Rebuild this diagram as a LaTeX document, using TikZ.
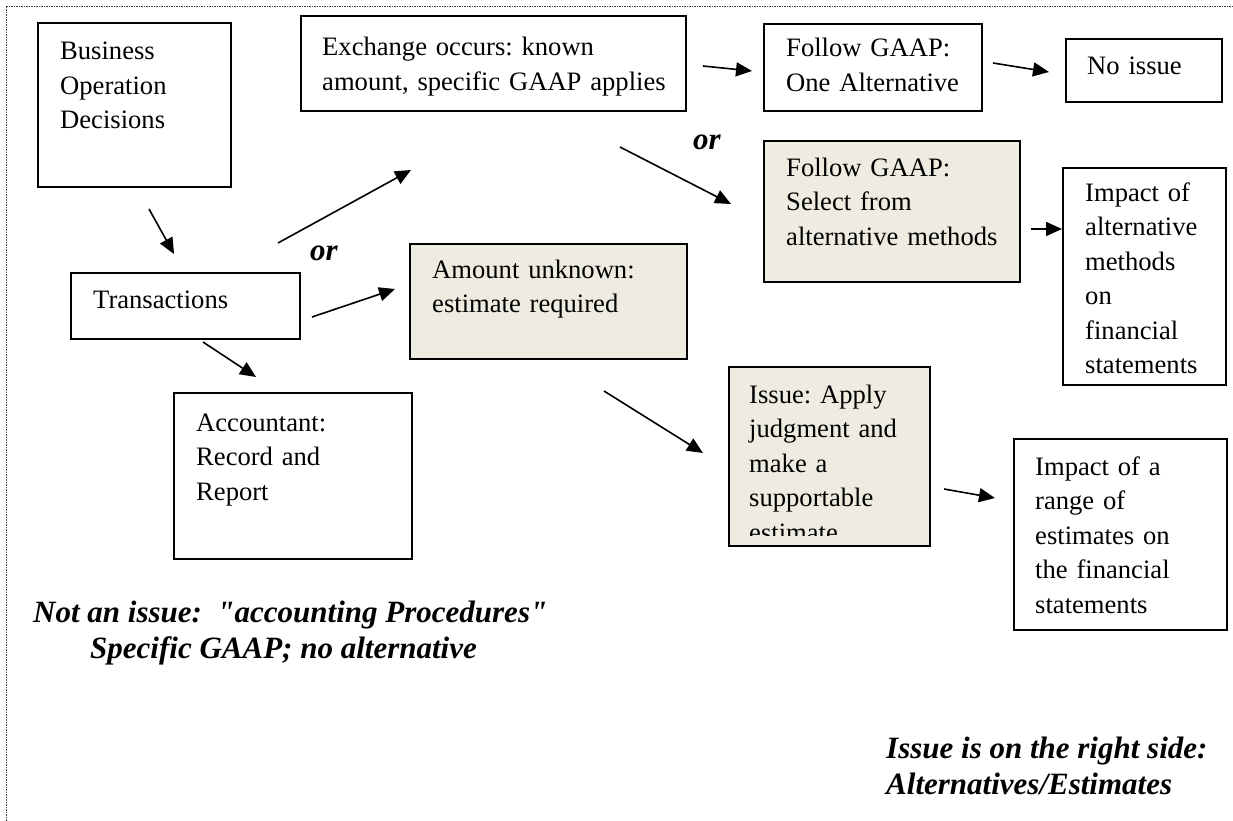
\documentclass[tikz,border=0pt]{standalone}
\usepackage{fontspec}
\setmainfont{Liberation Serif}
\newfontfamily\notefont{Liberation Serif}
\usetikzlibrary{arrows.meta}
\definecolor{tanfill}{HTML}{EEECE1}
\frenchspacing
\begin{document}
\frenchspacing
\begin{tikzpicture}[x=1pt,y=-1pt,
  box/.style={draw=black, line width=1.5pt, anchor=north west, inner sep=0pt, outer sep=0pt},
  tanbox/.style={box, fill=tanfill},
  txt/.style={anchor=base west, inner sep=0pt, text width=400pt, align=left,
    font=\fontsize{26.6}{34.5}\selectfont\frenchspacing},
  bold/.style={anchor=base west, inner sep=0pt, font=\notefont\fontsize{31}{36}\selectfont\bfseries\itshape\frenchspacing},
  arr/.style={line width=1.6pt, -{Triangle[length=16pt,width=14pt]}},
  border/.style={line width=0.9pt, black!75, dash pattern=on 1.5pt off 1pt}]
\useasboundingbox (0,0) rectangle (1233,821);
\draw[border] (1233,6) -- (6,6) -- (6,821);

% boxes
\node[box, minimum width=193pt, minimum height=164pt] (biz) at (38,23) {};
\node[box, minimum width=385pt, minimum height=95pt] (exch) at (301,16) {};
\node[box, minimum width=218pt, minimum height=87pt] (one) at (764,24) {};
\node[box, minimum width=156pt, minimum height=63pt] (noiss) at (1066,39) {};
\node[tanbox, minimum width=256pt, minimum height=141pt] (sel) at (764,141) {};
\node[box, minimum width=163pt, minimum height=217pt] (impalt) at (1063,168) {};
\node[box, minimum width=229pt, minimum height=66pt] (trans) at (71,273) {};
\node[tanbox, minimum width=277pt, minimum height=115pt] (amt) at (410,244) {};
\node[box, minimum width=238pt, minimum height=166pt] (acct) at (174,393) {};
\node[tanbox, minimum width=201pt, minimum height=179pt] (issue) at (729,367) {};
\node[box, minimum width=213pt, minimum height=191pt] (imprng) at (1014,439) {};

% texts
\node[txt] (biztxt) at (60,60) {Business\\Operation\\Decisions};
\node[txt] (exchtxt) at (322,56) {Exchange occurs: known\\amount, specific GAAP applies};
\node[txt] (onetxt) at (786,57) {Follow GAAP:\\One Alternative};
\node[txt] (noisstxt) at (1087,75) {No issue};
\node[txt] (seltxt) at (786,176) {Follow GAAP:\\Select from\\alternative methods};
\node[txt] (impalttxt) at (1085,201) {Impact of\\alternative\\methods\\on\\financial\\statements};
\node[txt] (transtxt) at (93,308) {Transactions};
\node[txt] (amttxt) at (432,278) {Amount unknown:\\estimate required};
\node[txt] (accttxt) at (196,431) {Accountant:\\Record and\\Report};
\begin{scope}
  \clip (729,367) rectangle (930,535);
  \node[txt] (issuetxt) at (749,403) {Issue: Apply\\judgment and\\make a\\supportable\\estimate};
\end{scope}
\node[txt] (imprngtxt) at (1035,475) {Impact of a\\range of\\estimates on\\the financial\\statements};

% or labels
\node[bold] (or1) at (693,150) {or};
\node[bold] (or2) at (310,260) {or};

% bottom notes
\node[bold] (note1) at (33,622) {Not an issue:\ \ "accounting Procedures"};
\node[bold] (note2) at (90,658) {Specific GAAP; no alternative};
\node[bold] (note3) at (886,758) {Issue is on the right side:};
\node[bold] (note4) at (886,794) {Alternatives/Estimates};

% arrow end points
\coordinate (a1s) at (149,209);  \coordinate (a1e) at (174,254);
\coordinate (a2s) at (278,243);  \coordinate (a2e) at (411,170);
\coordinate (a3s) at (312,317);  \coordinate (a3e) at (395,289);
\coordinate (a4s) at (203,342);  \coordinate (a4e) at (256,377);
\coordinate (a5s) at (703,66);   \coordinate (a5e) at (752,71);
\coordinate (a6s) at (993,63);   \coordinate (a6e) at (1049,72);
\coordinate (a7s) at (620,147);  \coordinate (a7e) at (731,204);
\coordinate (a8s) at (1031,229); \coordinate (a8e) at (1062,229);
\coordinate (a9s) at (604,391);  \coordinate (a9e) at (703,453);
\coordinate (a10s) at (944,489); \coordinate (a10e) at (995,498);

\draw[arr] (a1s) -- (a1e);
\draw[arr] (a2s) -- (a2e);
\draw[arr] (a3s) -- (a3e);
\draw[arr] (a4s) -- (a4e);
\draw[arr] (a5s) -- (a5e);
\draw[arr] (a6s) -- (a6e);
\draw[arr] (a7s) -- (a7e);
\draw[arr] (a8s) -- (a8e);
\draw[arr] (a9s) -- (a9e);
\draw[arr] (a10s) -- (a10e);
\end{tikzpicture}
\end{document}
